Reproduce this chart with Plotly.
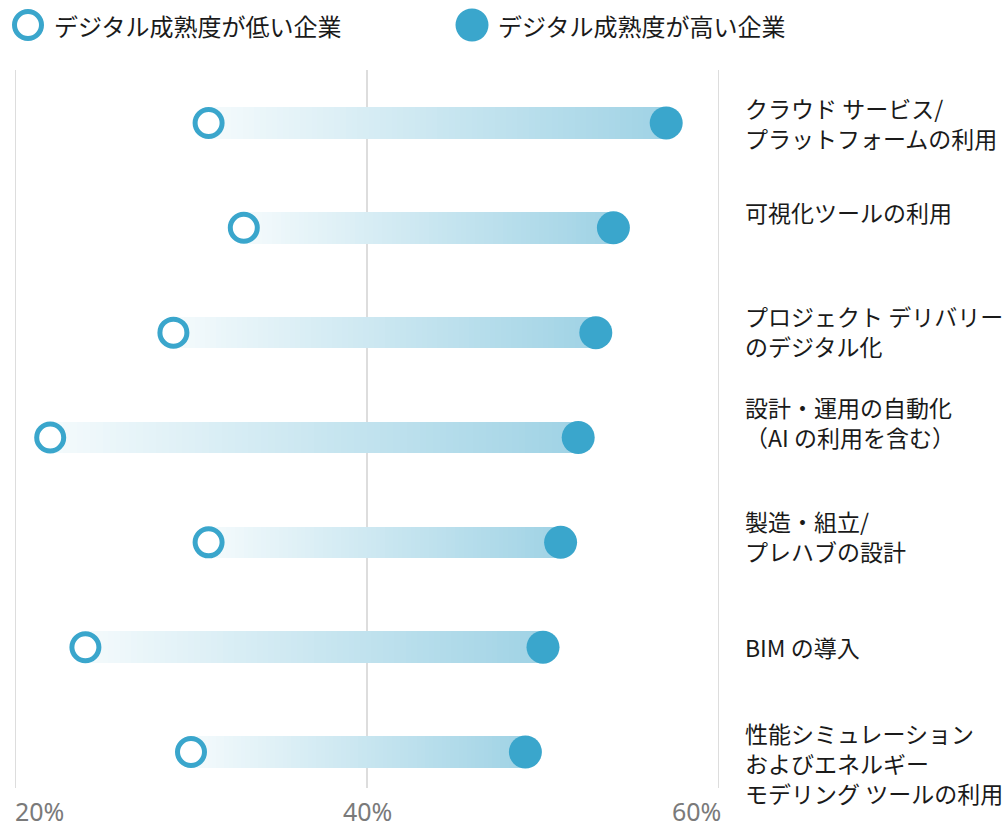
import plotly.graph_objects as go

# Share of companies using each practice, by digital maturity (%)
categories = [
    "クラウド サービス/<br>プラットフォームの利用",
    "可視化ツールの利用",
    "プロジェクト デリバリー<br>のデジタル化",
    "設計・運用の自動化<br>（AI の利用を含む）",
    "製造・組立/<br>プレハブの設計",
    "BIM の導入",
    "性能シミュレーション<br>およびエネルギー<br>モデリング ツールの利用",
]
low_maturity = [31, 33, 29, 22, 31, 24, 30]
high_maturity = [57, 54, 53, 52, 51, 50, 49]
series_names = ["デジタル成熟度が低い企業", "デジタル成熟度が高い企業"]
x_ticks = [20, 40, 60]

# layout geometry (pixels)
W, H = 1005, 821
ML, MR, MT, MB = 15, 286, 70, 33
PW, PH = W - ML - MR, H - MT - MB

BLUE = "#3aa6cc"
JP_FONT = "Noto Sans CJK JP, Noto Sans, sans-serif"
C_START = (244, 250, 252)
C_END = (160, 211, 229)
N_SEG = 80

rows = list(range(len(categories)))

# gradient bars built from many thin horizontal segments
seg_x, seg_base, seg_y, seg_col = [], [], [], []
for i, (lo, hi) in enumerate(zip(low_maturity, high_maturity)):
    step = (hi - lo) / N_SEG
    for k in range(N_SEG):
        t = k / (N_SEG - 1)
        r = round(C_START[0] + (C_END[0] - C_START[0]) * t)
        g = round(C_START[1] + (C_END[1] - C_START[1]) * t)
        b = round(C_START[2] + (C_END[2] - C_START[2]) * t)
        seg_base.append(lo + k * step)
        seg_x.append(step * 1.25)
        seg_y.append(i)
        seg_col.append(f"rgb({r},{g},{b})")
    seg_x[-1] = step

fig = go.Figure()
fig.add_trace(go.Bar(
    x=seg_x, base=seg_base, y=seg_y, orientation="h",
    width=0.3, marker=dict(color=seg_col, line=dict(width=0)),
    showlegend=False, hoverinfo="skip",
))
fig.add_trace(go.Scatter(
    x=high_maturity, y=rows, mode="markers", name=series_names[1],
    marker=dict(size=33, color=BLUE, line=dict(width=0)),
    showlegend=False,
))
fig.add_trace(go.Scatter(
    x=low_maturity, y=rows, mode="markers", name=series_names[0],
    marker=dict(size=27, color="white", line=dict(width=5, color=BLUE)),
    showlegend=False,
))


def px_x(px):
    return (px - ML) / PW


def px_y(py):
    return 1 - (py - MT) / PH


shapes = []
# vertical gridlines at each tick (drawn below the data)
for v in x_ticks:
    shapes.append(dict(
        type="line", xref="x", yref="paper", x0=v, x1=v, y0=0, y1=1,
        line=dict(color="#d2d2d2", width=1.5), layer="below",
    ))

annotations = []
# category labels to the right of the plot
label_shift = [0, 16, 2, 15, 6, 0, -11]
for i, lab in enumerate(categories):
    annotations.append(dict(
        x=1, xref="paper", y=i, yref="y", xshift=24,
        yshift=label_shift[i], text=lab, showarrow=False,
        xanchor="left", yanchor="middle", align="left",
        font=dict(family=JP_FONT, size=23, color="#1a1a1a"),
    ))

# x tick labels
anchors = ["left", "center", "right"]
shifts = [-2, 0, 4]
for v, a, s in zip(x_ticks, anchors, shifts):
    annotations.append(dict(
        x=v, xref="x", y=0, yref="paper", yshift=-23,
        text=f"{v}%", showarrow=False, xanchor=a, yanchor="middle",
        xshift=s,
        font=dict(family="Noto Sans, sans-serif", size=25, color="#7a7a7a"),
    ))

# legend
legend_items = [(28, series_names[0], False), (472, series_names[1], True)]
for cx, name, filled in legend_items:
    if filled:
        shapes.append(dict(
            type="circle", xref="paper", yref="paper",
            xsizemode="pixel", ysizemode="pixel",
            xanchor=px_x(cx), yanchor=px_y(25),
            x0=-16.5, x1=16.5, y0=-16.5, y1=16.5,
            fillcolor=BLUE, line=dict(width=0),
        ))
    else:
        shapes.append(dict(
            type="circle", xref="paper", yref="paper",
            xsizemode="pixel", ysizemode="pixel",
            xanchor=px_x(cx), yanchor=px_y(25),
            x0=-13.5, x1=13.5, y0=-13.5, y1=13.5,
            fillcolor="white", line=dict(width=5, color=BLUE),
        ))
    annotations.append(dict(
        x=px_x(cx + 24), xref="paper", y=px_y(25), yref="paper",
        text=name, showarrow=False, xanchor="left", yanchor="middle",
        font=dict(family=JP_FONT, size=24, color="#1a1a1a"),
    ))

fig.update_layout(
    width=W, height=H,
    margin=dict(l=ML, r=MR, t=MT, b=MB),
    paper_bgcolor="white", plot_bgcolor="white",
    barmode="overlay", bargap=0,
    xaxis=dict(
        range=[20, 60], tickvals=x_ticks, showticklabels=False,
        showgrid=False, zeroline=False, showline=False, ticks="",
    ),
    yaxis=dict(
        range=[6.343, -0.505], showticklabels=False, showgrid=False,
        zeroline=False, showline=False, ticks="",
    ),
    annotations=annotations,
    shapes=shapes,
    showlegend=False,
)

fig.write_html("out.html")
